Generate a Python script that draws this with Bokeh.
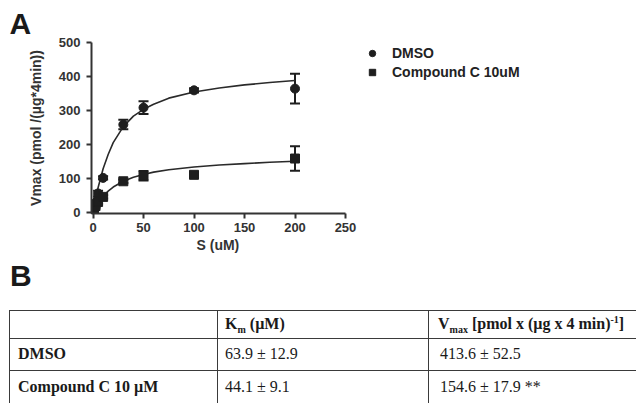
from bokeh.plotting import figure
from bokeh.models import (Range1d, FixedTicker, Whisker, TeeHead, ColumnDataSource,
                          Legend, LegendItem, Div, Title)
from bokeh.layouts import column
from bokeh.embed import file_html
from bokeh.resources import INLINE

# ---------------- data ----------------
s_points = [0, 1, 2.5, 5, 10, 30, 50, 100, 200]
dmso_v = [0, 12, 28, 55, 101, 258, 308, 359, 364]
dmso_err = [2, 3, 5, 8, 5, 14, 19, 6, 44]
cpd_v = [0, 8, 18, 30, 45, 91, 107, 110, 158]
cpd_err = [2, 3, 4, 5, 5, 5, 14, 8, 36]

fit_s = [0, 2, 5, 10, 15, 20, 30, 40, 50, 60, 75, 100, 125, 150, 175, 200]
dmso_fit = [0, 30, 72, 128, 170, 205, 252, 283, 303, 318, 336, 354, 366, 375, 382, 388]
cpd_fit = [0, 11, 26, 47, 62, 74, 91, 103, 111, 118, 125, 133, 139, 143, 147, 150]

x_ticks = [0, 50, 100, 150, 200, 250]
y_ticks = [0, 100, 200, 300, 400, 500]

series_labels = ["DMSO", "Compound C 10uM"]
x_title = "S (uM)"
y_title = "Vmax (pmol /(µg*4min))"

table_header = ["", "K<sub>m</sub> (µM)", "V<sub>max</sub> [pmol x (µg x 4 min)<sup>-1</sup>]"]
table_rows = ["DMSO", "Compound C 10 µM"]
km_vals = ["63.9 ± 12.9", "44.1 ± 9.1"]
vmax_vals = ["413.6 ± 52.5", "154.6 ± 17.9 **"]

# ---------------- chart ----------------
INK = "#1e1e1e"
AX = "#333333"
FONT = "Liberation Sans"

# frame extends to the right edge so that the legend is not clipped;
# the x axis itself is bounded to 0..250
X_START, X_AXIS_END = -1.5, 250
FRAME_L, AXIS_R, FIG_W = 91, 345, 636
x_end = X_AXIS_END + (FIG_W - AXIS_R) * (X_AXIS_END - X_START) / (AXIS_R - FRAME_L)

p = figure(width=FIG_W, height=255, output_backend="svg", toolbar_location=None,
           x_range=Range1d(X_START, x_end), y_range=Range1d(-4, 500),
           min_border_left=FRAME_L, min_border_right=0, min_border_top=42, min_border_bottom=42)
p.outline_line_color = None
p.grid.visible = False
p.background_fill_color = "white"

p.title.text = "A"
p.title.text_font = FONT
p.title.text_font_style = "bold"
p.title.text_font_size = "30px"
p.title.text_color = "#1a1a1a"
p.title.align = "left"
p.title.offset = -82
p.title.standoff = 5

for ax in (p.xaxis[0], p.yaxis[0]):
    ax.axis_line_width = 2
    ax.axis_line_color = AX
    ax.major_tick_line_width = 2
    ax.major_tick_line_color = AX
    ax.major_tick_out = 5
    ax.major_tick_in = 0
    ax.minor_tick_line_color = None
    ax.major_label_text_font = FONT
    ax.major_label_text_font_style = "bold"
    ax.major_label_text_font_size = "13px"
    ax.major_label_text_color = AX
    ax.axis_label_text_font = FONT
    ax.axis_label_text_font_style = "bold"
    ax.axis_label_text_font_size = "14px"
    ax.axis_label_text_color = AX

p.xaxis.bounds = (X_START, X_AXIS_END)
p.xaxis.ticker = FixedTicker(ticks=x_ticks)
p.yaxis.ticker = FixedTicker(ticks=y_ticks)
p.yaxis.axis_label = y_title
p.xaxis.major_label_standoff = 4
p.yaxis.major_label_standoff = 6
p.yaxis.axis_label_standoff = 12

# x-axis title centred under the bounded axis (not the wider frame)
xt = Title(text=x_title, align="left", offset=105, standoff=0, text_font=FONT,
           text_font_style="bold", text_font_size="14px", text_color=AX)
p.add_layout(xt, "below")

p.line(fit_s, dmso_fit, line_color="#2a2a2a", line_width=1.6)
p.line(fit_s, cpd_fit, line_color="#2a2a2a", line_width=1.6)

src_d = ColumnDataSource(dict(x=s_points, y=dmso_v,
                              lo=[v - e for v, e in zip(dmso_v, dmso_err)],
                              hi=[v + e for v, e in zip(dmso_v, dmso_err)]))
src_c = ColumnDataSource(dict(x=s_points, y=cpd_v,
                              lo=[v - e for v, e in zip(cpd_v, cpd_err)],
                              hi=[v + e for v, e in zip(cpd_v, cpd_err)]))

for src in (src_d, src_c):
    w = Whisker(source=src, base="x", lower="lo", upper="hi", dimension="height",
                line_color=INK, line_width=2,
                upper_head=TeeHead(size=10, line_color=INK, line_width=2),
                lower_head=TeeHead(size=10, line_color=INK, line_width=2))
    p.add_layout(w)

r1 = p.scatter("x", "y", source=src_d, marker="circle", size=9, fill_color=INK, line_color=INK)
r2 = p.scatter("x", "y", source=src_c, marker="square", size=9, fill_color=INK, line_color=INK)

legend = Legend(items=[LegendItem(label=series_labels[0], renderers=[r1]),
                       LegendItem(label=series_labels[1], renderers=[r2])],
                location=(273, 133), border_line_alpha=0, background_fill_alpha=0,
                padding=0, margin=0, glyph_width=16, glyph_height=16, label_height=16,
                spacing=3, label_standoff=12, label_text_font=FONT,
                label_text_font_style="bold", label_text_font_size="14px",
                label_text_color="#222222")
p.add_layout(legend)

# ---------------- table ----------------
cell = ("border:1.5px solid #3a3a3a; height:{h}px; vertical-align:middle; "
        "padding:0 0 0 {pl}px; white-space:nowrap; overflow:hidden;")
row_h = [32, 34]
rows_html = []
hdr = ("<tr>"
       f"<td style='{cell.format(h=28, pl=8)}'>{table_header[0]}</td>"
       f"<td style='{cell.format(h=28, pl=7)} font-weight:bold;'>{table_header[1]}</td>"
       f"<td style='{cell.format(h=28, pl=9)} border-right:none; font-weight:bold;'>{table_header[2]}</td>"
       "</tr>")
rows_html.append(hdr)
n = len(table_rows)
for i, (name, km, vm, h) in enumerate(zip(table_rows, km_vals, vmax_vals, row_h)):
    extra = " border-bottom:none;" if i == n - 1 else ""
    rows_html.append("<tr>"
                     f"<td style='{cell.format(h=h, pl=8)} font-weight:bold;{extra}'>{name}</td>"
                     f"<td style='{cell.format(h=h, pl=7)}{extra}'>{km}</td>"
                     f"<td style='{cell.format(h=h, pl=11)} border-right:none;{extra}'>{vm}</td>"
                     "</tr>")

html = (
    "<div style='position:relative; width:636px; height:148px; overflow:hidden; background:white;'>"
    "<div style=\"position:absolute; left:10px; top:6px; font-family:'Liberation Sans'; font-weight:bold; "
    "font-size:30px; line-height:1; color:#1a1a1a;\">B</div>"
    "<table style=\"position:absolute; left:9px; top:55px; width:640px; border-collapse:collapse; "
    "font-family:'Liberation Serif'; font-size:16px; color:#1a1a1a; table-layout:fixed;\">"
    "<style>sub,sup{font-size:10px; line-height:0;}</style>"
    "<colgroup><col style='width:208px'><col style='width:211px'><col style='width:221px'></colgroup>"
    + "".join(rows_html) +
    "</table></div>"
)
div = Div(text=html, width=636, height=148, margin=0)

layout = column(p, div, spacing=0)
open("out.html", "w").write(file_html(layout, INLINE))
